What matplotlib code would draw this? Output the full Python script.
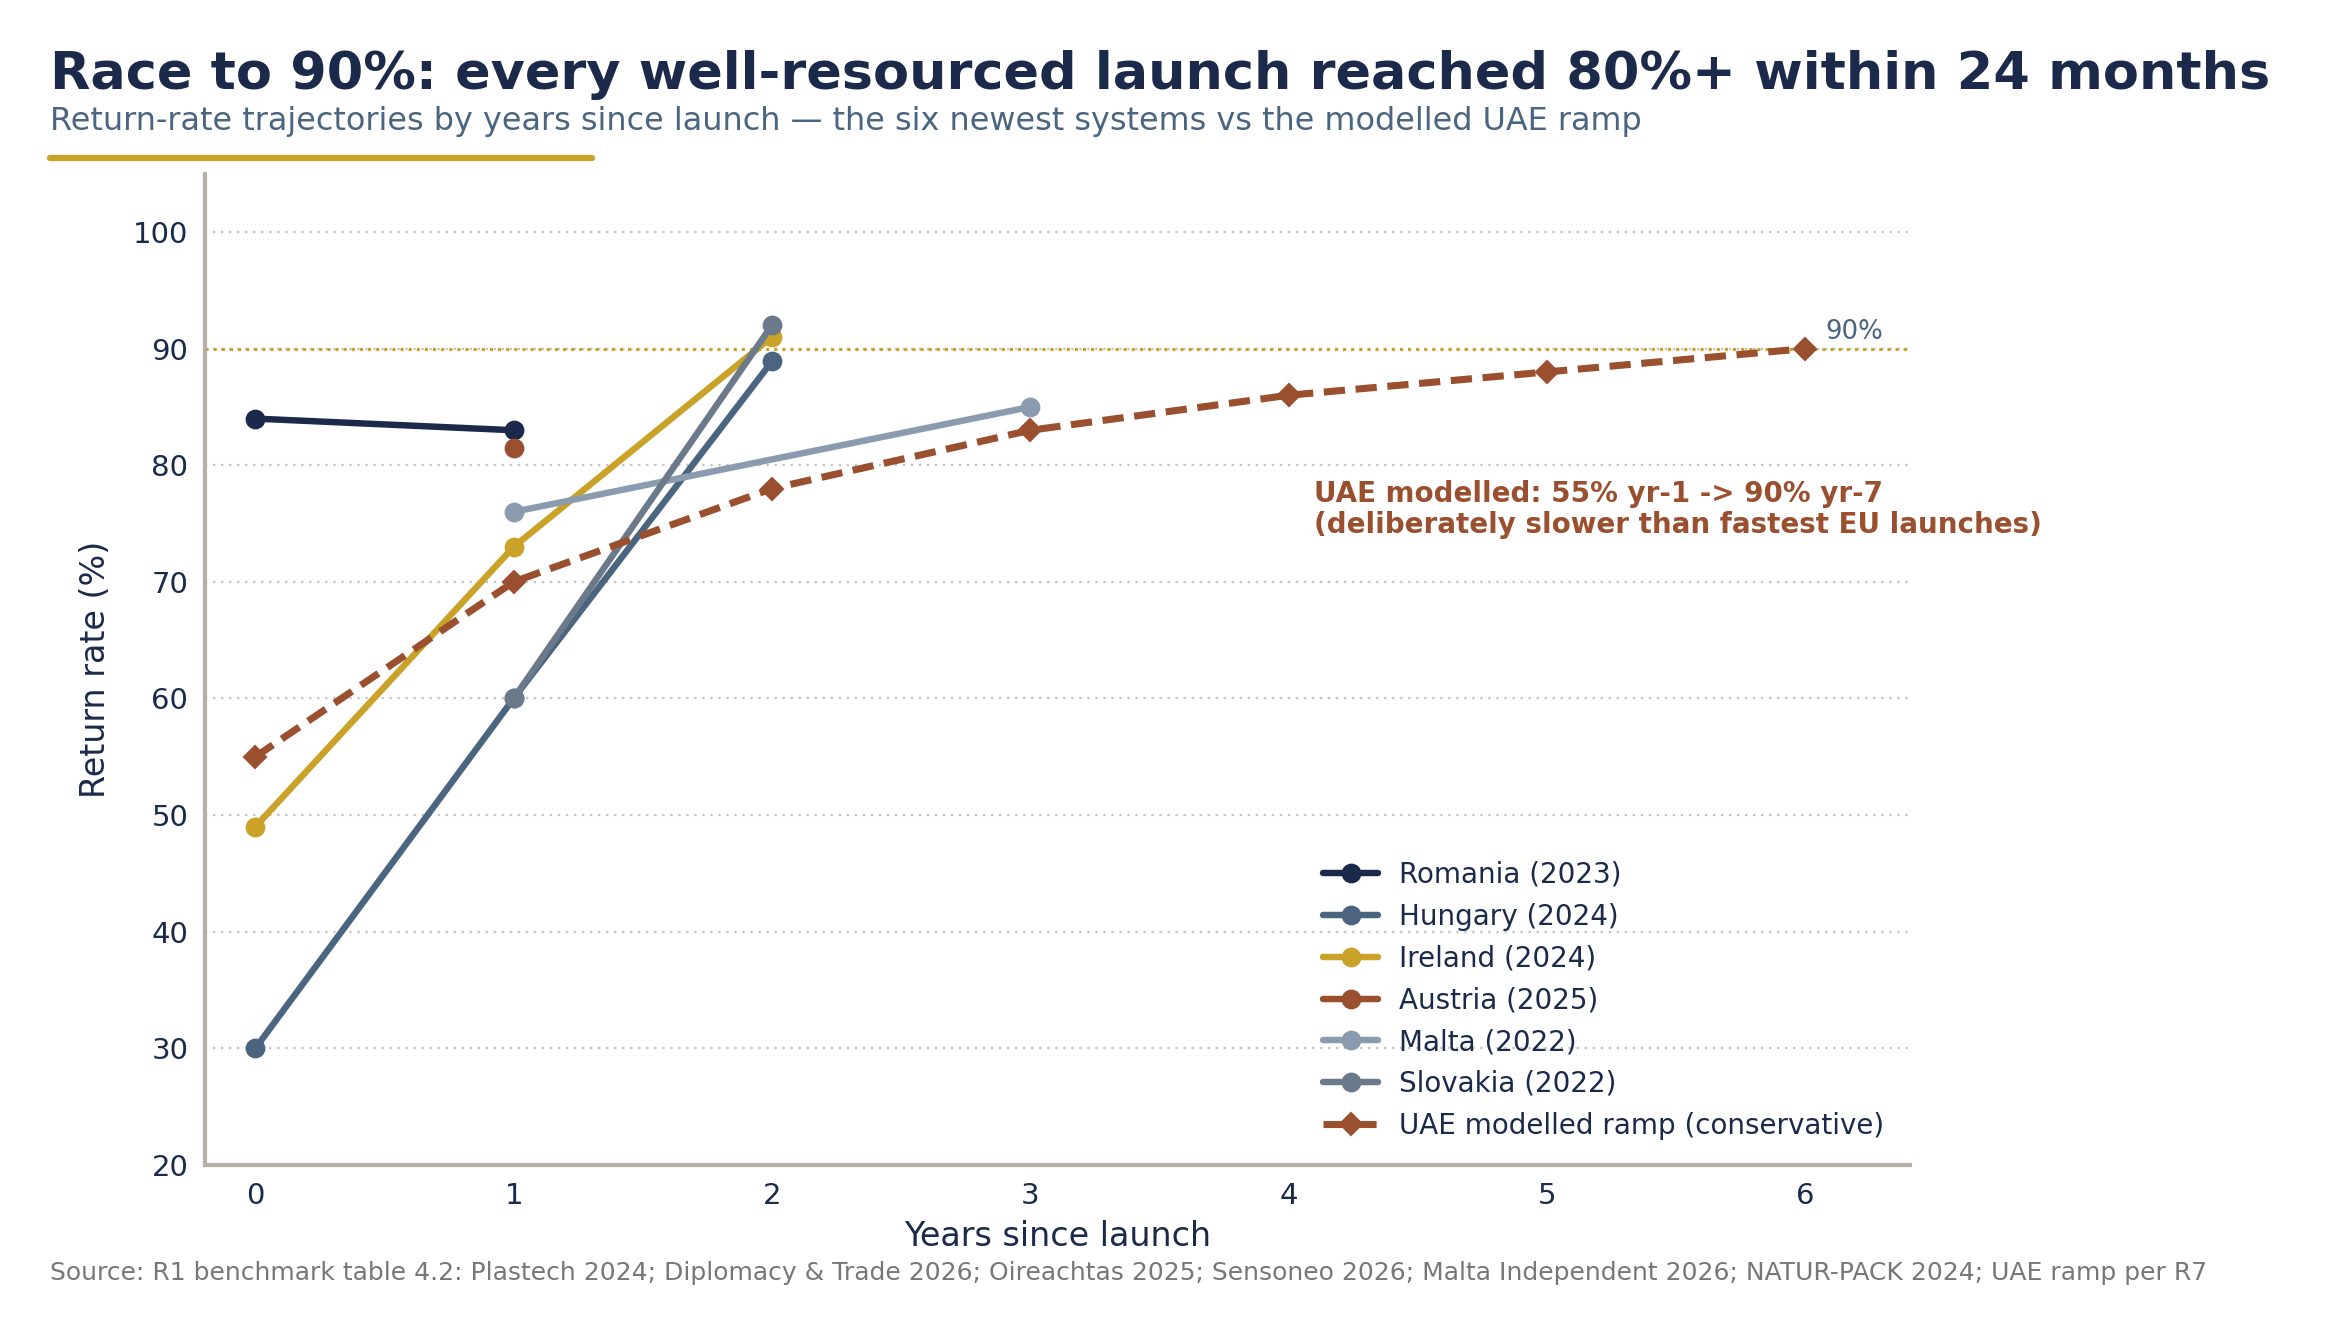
import matplotlib
matplotlib.use("Agg")
import matplotlib.pyplot as plt
from matplotlib.lines import Line2D

# Colours
NAVY = "#1b2a4a"
SLATE = "#4a6580"
GOLD = "#c9a227"
RUST = "#9a4f2e"
MIST = "#8a9bb0"
STEEL = "#6b7a8a"
SPINE = "#b5b0a5"

# Data: years since launch and return rate (%)
romania_x = [0, 1]
romania_y = [84, 83]
hungary_x = [0, 1, 2]
hungary_y = [30, 60, 88.9]
ireland_x = [0, 1, 2]
ireland_y = [49, 73, 91]
austria_x = [1]
austria_y = [81.5]
malta_x = [1, 3]
malta_y = [76, 85]
slovakia_x = [1, 2]
slovakia_y = [60, 92]
uae_x = [0, 1, 2, 3, 4, 5, 6]
uae_y = [55, 70, 78, 83, 86, 88, 90]

series = [
    ("Romania (2023)", romania_x, romania_y, NAVY),
    ("Hungary (2024)", hungary_x, hungary_y, SLATE),
    ("Ireland (2024)", ireland_x, ireland_y, GOLD),
    ("Austria (2025)", austria_x, austria_y, RUST),
    ("Malta (2022)", malta_x, malta_y, MIST),
    ("Slovakia (2022)", slovakia_x, slovakia_y, STEEL),
]

fig = plt.figure(figsize=(2329 / 150, 1336 / 150), dpi=150)
ax = fig.add_axes([0.088, 0.128, 0.732, 0.742])

# Grid and target line
for yv in range(20, 101, 10):
    ax.axhline(yv, color="#c4c4c4", lw=1.1, ls=(0, (1, 2.5)), zorder=0)
ax.axhline(90, color=GOLD, lw=1.5, ls=(0, (1, 1.6)), zorder=1)
ax.text(6.08, 90.3, "90%", color=SLATE, fontsize=12.5, va="bottom", ha="left")

for name, xs, ys, col in series:
    ax.plot(xs, ys, color=col, lw=3.1, marker="o", markersize=8.5,
            label=name, zorder=3, solid_capstyle="round")

ax.plot(uae_x, uae_y, color=RUST, lw=3.4, ls=(0, (3.0, 1.5)), marker="D",
        markersize=7.5, label="UAE modelled ramp (conservative)", zorder=4)

ax.text(4.1, 76.2, "UAE modelled: 55% yr-1 -> 90% yr-7\n(deliberately slower than fastest EU launches)",
        color=RUST, fontsize=13.3, fontweight="bold", ha="left", va="center",
        linespacing=1.1)

ax.set_xlim(-0.195, 6.405)
ax.set_ylim(20, 105)
ax.set_xticks(range(0, 7))
ax.set_yticks(range(20, 101, 10))
ax.tick_params(length=0, labelsize=14, labelcolor=NAVY, pad=8)
for s in ["top", "right"]:
    ax.spines[s].set_visible(False)
for s in ["left", "bottom"]:
    ax.spines[s].set_color(SPINE)
    ax.spines[s].set_linewidth(2)

ax.set_xlabel("Years since launch", fontsize=16, color=NAVY, labelpad=5)
ax.set_ylabel("Return rate (%)", fontsize=16, color=NAVY, labelpad=10)

leg = ax.legend(loc="lower right", bbox_to_anchor=(0.998, 0.003), frameon=False,
                fontsize=13.3, labelcolor=NAVY, handlelength=2.0,
                handletextpad=0.75, labelspacing=0.5, borderpad=0.3)

# Titles
fig.text(0.0215, 0.944, "Race to 90%: every well-resourced launch reached 80%+ within 24 months",
         fontsize=25.2, fontweight="bold", color=NAVY, ha="left", va="center")
fig.text(0.0215, 0.909, "Return-rate trajectories by years since launch \u2014 the six newest systems vs the modelled UAE ramp",
         fontsize=15.3, color=SLATE, ha="left", va="center")
fig.add_artist(Line2D([0.0215, 0.254], [0.8815, 0.8815], color=GOLD, lw=3,
                      solid_capstyle="round", transform=fig.transFigure))

fig.text(0.0215, 0.047, "Source: R1 benchmark table 4.2: Plastech 2024; Diplomacy & Trade 2026; Oireachtas 2025; "
         "Sensoneo 2026; Malta Independent 2026; NATUR-PACK 2024; UAE ramp per R7",
         fontsize=12, color="#777777", ha="left", va="center")

fig.savefig("out.png", dpi=150, facecolor="white")
